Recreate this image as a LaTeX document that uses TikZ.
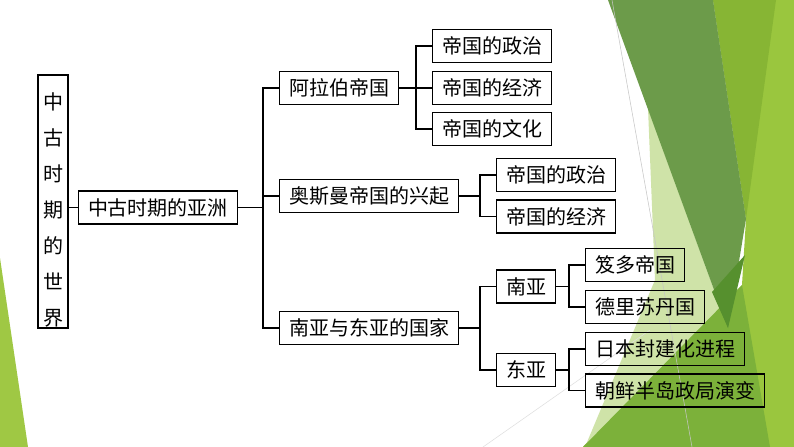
\documentclass[tikz,border=0pt]{standalone}
\usepackage{fontspec}
\newfontfamily\cjk{Noto Sans CJK SC}
\usepackage{xcolor}
\definecolor{verdeClaro}{HTML}{9AC63E}
\definecolor{verdeMedio}{HTML}{87B534}
\definecolor{verdeBajo}{HTML}{7CB13A}
\definecolor{verdeOscuro}{HTML}{6C9B4A}
\definecolor{verdePunta}{HTML}{56902E}
\definecolor{verdePalido}{HTML}{CFE3A8}
\definecolor{verdeIzq}{HTML}{9FC844}

\tikzset{
  caja/.style={draw, line width=1pt, anchor=west, inner xsep=7pt, inner ysep=0pt,
    minimum height=24.75pt, font=\cjk\fontsize{15}{18}\selectfont},
  rama/.style={line width=1pt}
}

\begin{document}
\begin{tikzpicture}[x=0.75pt,y=-0.75pt]
  \useasboundingbox[fill=white] (0,0) rectangle (794,447);

  % Fondo
  \fill[verdeIzq] (0,258) -- (28,447) -- (0,447) -- cycle;
  \fill[verdeClaro] (713,0) -- (794,0) -- (794,447) -- (583,447) -- (742,285) -- (746,219) -- cycle;
  \fill[verdeMedio] (713,0) -- (776,0) -- (746,219) -- cycle;
  \fill[verdePalido] (648,108) -- (728,328) -- (585,447) -- (655,280) -- cycle;
  \fill[verdeBajo] (583,447) -- (742,285) -- (770,447) -- cycle;
  \fill[verdeOscuro] (608,0) -- (713,0) -- (746,219) -- (728,328) -- cycle;
  \fill[verdePunta] (712,292) -- (745,255) -- (728,328) -- cycle;
  \draw[gray!45, line width=0.4pt] (612,0) -- (692,447);
  \draw[gray!25, line width=0.4pt] (483,447) -- (650,330);

  % Cajas
  \node[draw, line width=1pt, minimum width=22.5pt, minimum height=189.75pt, inner sep=0pt,
    align=center, font=\cjk\fontsize{15}{18}\selectfont] (mundo) at (53,201.5)
    {\rule{0pt}{25pt}中\\[9pt]古\\[9pt]时\\[9pt]期\\[9pt]的\\[9pt]世\\[9pt]界};
  \node[caja] (asia) at (78,207.5) {中古时期的亚洲};

  \node[caja] (arab) at (279,88) {阿拉伯帝国};
  \node[caja] (osm) at (279,196) {奥斯曼帝国的兴起};
  \node[caja] (asiaSE) at (279,328) {南亚与东亚的国家};

  \node[caja] (arab1) at (432,46) {帝国的政治};
  \node[caja] (arab2) at (432,88) {帝国的经济};
  \node[caja] (arab3) at (432,129) {帝国的文化};

  \node[caja] (osm1) at (496,175) {帝国的政治};
  \node[caja] (osm2) at (496,216.5) {帝国的经济};

  \node[caja] (sur) at (496,286.5) {南亚};
  \node[caja] (este) at (496,370) {东亚};

  \node[caja] (sur1) at (585,265) {笈多帝国};
  \node[caja] (sur2) at (585,307) {德里苏丹国};
  \node[caja] (este1) at (585,349) {日本封建化进程};
  \node[caja] (este2) at (585,390.5) {朝鲜半岛政局演变};

  % Ramas
  \draw[rama] (asia.west -| mundo.east) -- (asia.west);
  \foreach \h in {arab,osm,asiaSE}
    \draw[rama] (asia.east) -| ([xshift=-12pt]\h.west) -- (\h.west);
  \foreach \h in {arab1,arab2,arab3}
    \draw[rama] (arab.east) -| ([xshift=-12pt]\h.west) -- (\h.west);
  \foreach \h in {osm1,osm2}
    \draw[rama] (osm.east) -| ([xshift=-12pt]\h.west) -- (\h.west);
  \foreach \h in {sur,este}
    \draw[rama] (asiaSE.east) -| ([xshift=-12pt]\h.west) -- (\h.west);
  \foreach \h in {sur1,sur2}
    \draw[rama] (sur.east) -| ([xshift=-12pt]\h.west) -- (\h.west);
  \foreach \h in {este1,este2}
    \draw[rama] (este.east) -| ([xshift=-12pt]\h.west) -- (\h.west);

\end{tikzpicture}
\end{document}
